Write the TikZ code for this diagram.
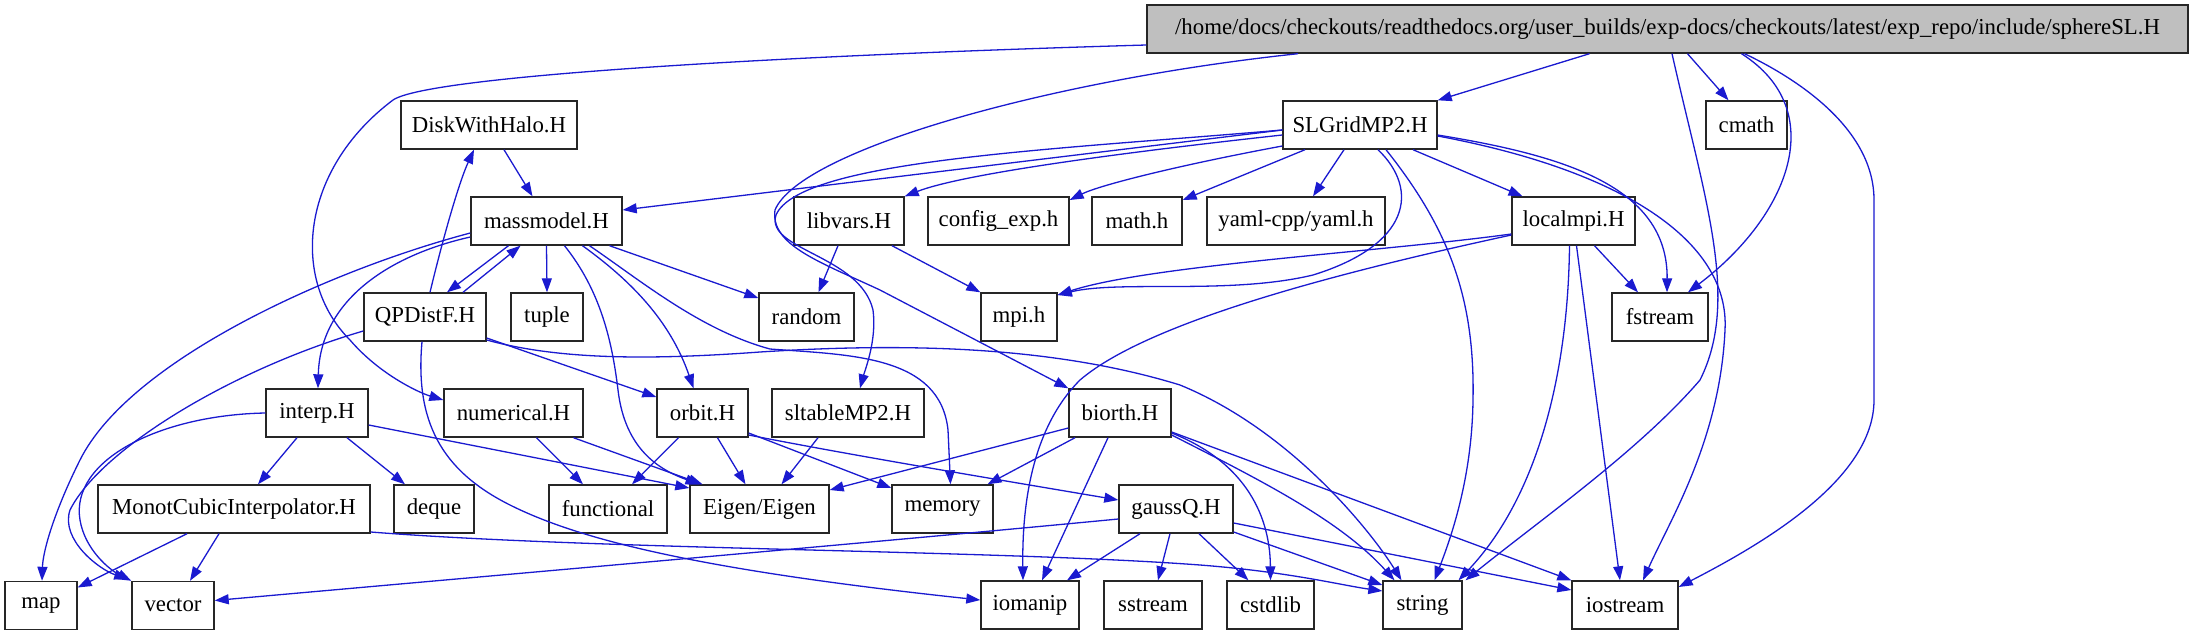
\documentclass[tikz,border=0pt]{standalone}
\usepackage{fontspec}
\setmainfont{Liberation Serif}
\usetikzlibrary{arrows.meta}
\definecolor{edgeblue}{RGB}{26,26,208}
\definecolor{headgrey}{RGB}{191,191,191}
\newcommand\dgfont{\fontsize{22.8}{27}\selectfont}
\begin{document}
\begin{tikzpicture}[x=1pt,y=-1pt,
  box/.style={draw=black!85,line width=1.4pt,minimum height=48pt,inner sep=0pt,font=\dgfont,fill=white},
  e/.style={draw=edgeblue,line width=1.3pt,-{Triangle[length=14pt,width=10pt]}}]
\useasboundingbox[fill=white] (0,0) rectangle (2194,635);
% nodes
\node[box,fill=headgrey,minimum width=1041pt] (S) at (1667.5,29) {/home/docs/checkouts/readthedocs.org/user\_builds/exp-docs/checkouts/latest/exp\_repo/include/sphereSL.H};
\node[box,minimum width=154pt] (G) at (1360,125) {SLGridMP2.H};
\node[box,minimum width=81pt] (cmath) at (1746.5,125) {cmath};
\node[box,minimum width=176pt] (D) at (489,125) {DiskWithHalo.H};
\node[box,minimum width=151pt] (M) at (546.5,221) {massmodel.H};
\node[box,minimum width=110pt] (libvars) at (849,221) {libvars.H};
\node[box,minimum width=141pt] (config) at (998.5,221) {config\_exp.h};
\node[box,minimum width=90pt] (math) at (1137,221) {math.h};
\node[box,minimum width=178pt] (yaml) at (1296,221) {yaml-cpp/yaml.h};
\node[box,minimum width=123pt] (localmpi) at (1573.5,221) {localmpi.H};
\node[box,minimum width=122pt] (Q) at (425,317) {QPDistF.H};
\node[box,minimum width=72pt] (tuple) at (547,317) {tuple};
\node[box,minimum width=95pt] (random) at (806.5,317) {random};
\node[box,minimum width=76pt] (mpi) at (1019,317) {mpi.h};
\node[box,minimum width=96pt] (fstream) at (1660,317) {fstream};
\node[box,minimum width=102pt] (interp) at (317,413) {interp.H};
\node[box,minimum width=139pt] (numerical) at (513.5,413) {numerical.H};
\node[box,minimum width=91pt] (orbit) at (702.5,413) {orbit.H};
\node[box,minimum width=152pt] (sltable) at (848,413) {sltableMP2.H};
\node[box,minimum width=102pt] (biorth) at (1120,413) {biorth.H};
\node[box,minimum width=272pt] (Monot) at (234,509) {MonotCubicInterpolator.H};
\node[box,minimum width=80pt] (deque) at (434,509) {deque};
\node[box,minimum width=118pt] (functional) at (608,509) {functional};
\node[box,minimum width=139pt] (Eigen) at (759.5,509) {Eigen/Eigen};
\node[box,minimum width=101pt] (memory) at (942.5,509) {memory};
\node[box,minimum width=114pt] (gaussQ) at (1176,509) {gaussQ.H};
\node[box,minimum width=72pt] (map) at (41,605.5) {map};
\node[box,minimum width=82pt] (vector) at (173,605.5) {vector};
\node[box,minimum width=98pt] (iomanip) at (1030,605) {iomanip};
\node[box,minimum width=98pt] (sstream) at (1153,605) {sstream};
\node[box,minimum width=87pt] (cstdlib) at (1270.5,605) {cstdlib};
\node[box,minimum width=79pt] (string) at (1422.5,605) {string};
\node[box,minimum width=106pt] (iostream) at (1625,605) {iostream};
% sphereSL edges
\draw[e] ([xshift=-78pt]S.south) -- (G.north east);
\draw[e] ([xshift=20pt]S.south) -- ([xshift=-18pt]cmath.north);
\draw[e] ([xshift=74pt]S.south) .. controls (1830,110) and (1790,215) .. ([xshift=28pt]fstream.north);
\draw[e] ([xshift=77pt]S.south) .. controls (1800,80) and (1874,130) .. (1874,200) -- (1874,400) .. controls (1874,480) and (1760,545) .. ([yshift=18pt]iostream.east);
\draw[e] ([xshift=4.5pt]S.south) .. controls (1705,200) and (1740,300) .. (1700,380) .. controls (1640,450) and (1540,520) .. ([xshift=43pt]string.north);
\draw[e] ([yshift=-16pt]S.west) .. controls (800,55) and (430,75) .. (393,100) .. controls (300,170) and (290,280) .. (350,340) .. controls (380,375) and (420,393) .. ([yshift=13pt]numerical.west);
\draw[e] ([xshift=-369.5pt]S.south) .. controls (1050,80) and (800,150) .. (775,210) .. controls (770,245) and (820,262) .. (880,290) -- (biorth.north west);
% SLGridMP2 edges
\draw[e] ([yshift=-5pt]G.west) -- ([yshift=11pt]M.east);
\draw[e] ([yshift=-10pt]G.west) .. controls (1100,155) and (960,175) .. (libvars.north east);
\draw[e] ([yshift=-21pt]G.west) .. controls (1180,165) and (1100,185) .. ([yshift=21pt]config.east);
\draw[e] ([xshift=-55pt]G.south) -- ([yshift=21pt]math.east);
\draw[e] ([xshift=-16pt]G.south) -- ([xshift=17pt]yaml.north);
\draw[e] ([xshift=53pt]G.south) -- ([xshift=-51pt]localmpi.north);
\draw[e] ([yshift=-10pt]G.east) .. controls (1560,155) and (1668,185) .. ([xshift=7pt]fstream.north);
\draw[e] ([yshift=-11pt]G.east) .. controls (1620,170) and (1730,240) .. (1725,330) .. controls (1720,440) and (1670,520) .. ([xshift=18pt]iostream.north);
\draw[e] ([xshift=26pt]G.south) .. controls (1450,230) and (1475,300) .. (1473,400) .. controls (1472,480) and (1450,540) .. ([xshift=12pt]string.north);
\draw[e] ([xshift=18pt]G.south) .. controls (1420,190) and (1410,245) .. (1313,275) .. controls (1230,295) and (1120,280) .. ([yshift=22pt]mpi.east);
\draw[e] ([yshift=-5pt]G.west) .. controls (1050,150) and (800,160) .. (776,215) .. controls (765,250) and (860,255) .. (873,310) .. controls (877,340) and (865,370) .. ([xshift=12pt]sltable.north);
% localmpi edges
\draw[e] ([xshift=21pt]localmpi.south) -- ([xshift=-22pt]fstream.north);
\draw[e] ([xshift=-4pt]localmpi.south) .. controls (1568,380) and (1535,500) .. ([xshift=36pt]string.north);
\draw[e] ([xshift=3pt]localmpi.south) -- ([xshift=-5pt]iostream.north);
\draw[e] ([yshift=-13pt]localmpi.west) .. controls (1380,252) and (1150,265) .. ([yshift=22pt]mpi.east);
\draw[e] ([yshift=-14pt]localmpi.west) .. controls (1350,270) and (1150,320) .. (1080,380) .. controls (1030,430) and (1022,510) .. ([xshift=-7pt]iomanip.north);
% libvars
\draw[e] ([xshift=-11pt]libvars.south) -- ([xshift=12pt]random.north);
\draw[e] ([xshift=43pt]libvars.south) -- (mpi.north west);
% DiskWithHalo / QPDistF / massmodel
\draw[e] ([xshift=15pt]D.south) -- ([xshift=-14pt]M.north);
\draw[e] ([xshift=5pt]Q.north) .. controls (445,230) and (460,180) .. ([xshift=-15pt]D.south);
\draw[e] ([xshift=-38pt]M.south) -- ([xshift=22pt]Q.north);
\draw[e] ([xshift=38pt]Q.north) -- ([xshift=-26pt]M.south);
\draw[e] (M.south) -- (tuple.north);
\draw[e] ([xshift=63pt]M.south) -- ([yshift=19pt]random.west);
\draw[e] ([xshift=36pt]M.south) .. controls (630,280) and (670,320) .. ([xshift=-9pt]orbit.north);
\draw[e] ([xshift=18pt]M.south) .. controls (600,290) and (612,340) .. (618,390) .. controls (625,450) and (660,470) .. ([xshift=-60pt]Eigen.north);
\draw[e] ([xshift=43pt]M.south) .. controls (640,280) and (700,330) .. (770,349) .. controls (850,355) and (940,355) .. (948,430) -- ([xshift=8pt]memory.north);
\draw[e] ([yshift=-16pt]M.west) .. controls (390,255) and (320,300) .. ([xshift=1pt]interp.north);
\draw[e] ([yshift=-12pt]M.west) .. controls (330,270) and (130,360) .. (80,460) .. controls (55,510) and (43,550) .. ([xshift=1pt]map.north);
\draw[e] ([yshift=-14pt]Q.west) .. controls (230,370) and (100,450) .. (70,510) .. controls (60,540) and (100,570) .. ([xshift=-3pt,yshift=2pt]vector.north west);
\draw[e] ([yshift=-21pt]Q.east) -- ([yshift=16pt]orbit.west);
\draw[e] ([yshift=-23pt]Q.east) .. controls (560,360) and (650,360) .. (760,352) .. controls (900,343) and (1050,345) .. (1180,385) .. controls (1290,430) and (1370,530) .. ([xshift=-21pt]string.north);
\draw[e] ([xshift=-3pt]Q.south) .. controls (415,420) and (440,470) .. (510,505) .. controls (580,540) and (700,570) .. ([yshift=5pt]iomanip.west);
% interp
\draw[e] ([xshift=-20pt]interp.south) -- ([xshift=24pt]Monot.north);
\draw[e] ([xshift=30pt]interp.south) -- ([xshift=-29pt]deque.north);
\draw[e] ([yshift=-12pt]interp.east) -- ([yshift=21pt]Eigen.west);
\draw[e] (interp.west) .. controls (160,415) and (70,460) .. (80,520) .. controls (85,550) and (110,570) .. (vector.north west);
% numerical, orbit, sltable
\draw[e] ([xshift=23pt]numerical.south) -- ([xshift=-25pt]functional.north);
\draw[e] ([xshift=60pt]numerical.south) -- ([xshift=-57pt]Eigen.north);
\draw[e] ([xshift=-24pt]orbit.south) -- ([xshift=24pt]functional.north);
\draw[e] ([xshift=15pt]orbit.south) -- ([xshift=-14pt]Eigen.north);
\draw[e] ([yshift=-20pt]orbit.east) -- ([yshift=21pt]memory.west);
\draw[e] ([yshift=-22pt]orbit.east) .. controls (850,455) and (1000,480) .. ([yshift=9pt]gaussQ.west);
\draw[e] ([xshift=-30pt]sltable.south) -- ([xshift=22pt]Eigen.north);
% biorth
\draw[e] ([yshift=-15pt]biorth.west) -- ([yshift=19pt]Eigen.east);
\draw[e] ([xshift=-45pt]biorth.south) -- ([xshift=45pt]memory.north);
\draw[e] ([xshift=-12pt]biorth.south) -- ([xshift=12pt]iomanip.north);
\draw[e] ([yshift=-20pt]biorth.east) .. controls (1240,460) and (1270,510) .. (cstdlib.north);
\draw[e] ([yshift=-22pt]biorth.east) .. controls (1260,480) and (1340,520) .. ([xshift=-28pt]string.north);
\draw[e] ([yshift=-19pt]biorth.east) -- (iostream.north west);
% gaussQ
\draw[e] ([yshift=-10pt]gaussQ.west) .. controls (900,540) and (500,575) .. ([yshift=5pt]vector.east);
\draw[e] ([xshift=-36pt]gaussQ.south) -- ([xshift=37pt]iomanip.north);
\draw[e] ([xshift=-6pt]gaussQ.south) -- ([xshift=5pt]sstream.north);
\draw[e] ([xshift=23pt]gaussQ.south) -- ([xshift=-22pt]cstdlib.north);
\draw[e] ([yshift=-23pt]gaussQ.east) -- ([yshift=20pt]string.west);
\draw[e] ([yshift=-14pt]gaussQ.east) -- ([yshift=15pt]iostream.west);
% MonotCubicInterpolator
\draw[e] ([xshift=-47pt]Monot.south) -- ([yshift=18pt]map.east);
\draw[e] ([xshift=-15pt]Monot.south) -- ([xshift=17pt]vector.north);
\draw[e] ([yshift=-23pt]Monot.east) .. controls (600,550) and (1000,550) .. (1200,565) .. controls (1290,572) and (1340,585) .. ([yshift=14pt]string.west);
\end{tikzpicture}
\end{document}
